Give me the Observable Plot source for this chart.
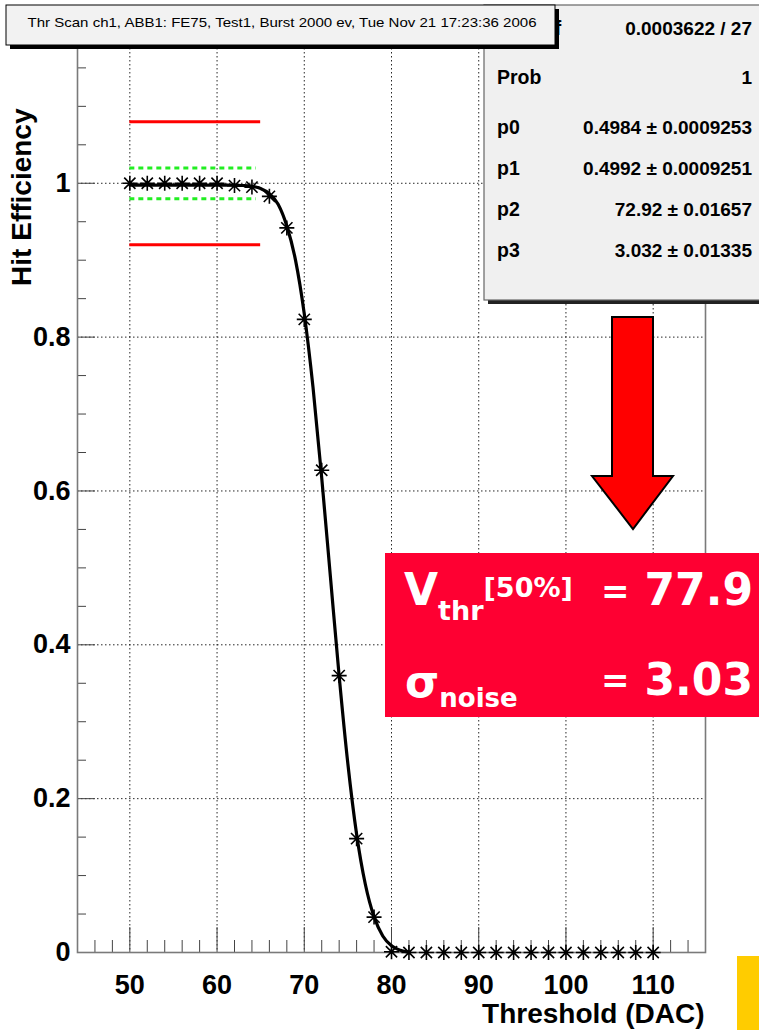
<!DOCTYPE html>
<html><head><meta charset="utf-8">
<script src="https://cdn.jsdelivr.net/npm/d3@7"></script>
<script src="https://cdn.jsdelivr.net/npm/@observablehq/plot@0.6"></script>
<style>
html,body{margin:0;padding:0;background:#fff;}
#wrap{position:relative;width:759px;height:1030px;overflow:hidden;}
#wrap > svg{position:absolute;left:0;top:0;}
</style></head><body><div id="wrap"></div>
<script>
// ---- data ----
const thresholds = [50,52,54,56,58,60,62,64,66,68,70,72,74,76,78,80,82,84,86,88,90,92,94,96,98,100,102,104,106,108,110];
const efficiency = [1,1,1,1,1,1,0.997,0.995,0.983,0.942,0.823,0.627,0.360,0.148,0.046,0.001,0,0,0,0,0,0,0,0,0,0,0,0,0,0,0];
const fitThreshold = [50,52,54,56,58,60,61,62,63,64,65,66,67,68,69,70,71,72,73,74,75,76,77,78,79,80,81,82];
const fitEfficiency = [0.9976,0.9976,0.9976,0.9976,0.9976,0.9976,0.9975,0.9974,0.9971,0.9961,0.9931,0.9866,0.9727,0.9444,0.8998,0.8302,0.7349,0.617,0.4879,0.3594,0.2451,0.1538,0.0887,0.0464,0.0215,0.0087,0.0029,0.0005];
const xMajorTicks = [50,60,70,80,90,100,110];
const xMinorTicks = [46,48,52,54,56,58,62,64,66,68,72,74,76,78,82,84,86,88,92,94,96,98,102,104,106,108,112,114];
const yMajorTicks = [0,0.2,0.4,0.6,0.8,1];
const yMinorTicks = [0.05,0.1,0.15,0.25,0.3,0.35,0.45,0.5,0.55,0.65,0.7,0.75,0.85,0.9,0.95,1.05,1.1,1.15];
const yGridTicks = [0.2,0.4,0.6,0.8,1];
const redBandLevels = [0.92,1.08];
const greenBandLevels = [0.98,1.02];
const bandStart = 50, redBandEnd = 65, greenBandEnd = 64.5;
const xDomain = [44,116];
const yDomain = [0,1.196];
const titleText = "Thr Scan ch1, ABB1: FE75, Test1, Burst 2000 ev, Tue Nov 21 17:23:36 2006";
const statLabels = ["\u03C7\u00B2 / ndf","Prob","p0","p1","p2","p3"];
const statValues = ["0.0003622 / 27","1","0.4984 \u00B1 0.0009253","0.4992 \u00B1 0.0009251","72.92 \u00B1 0.01657","3.032 \u00B1 0.01335"];
const xLabel = "Threshold (DAC)";
const yLabel = "Hit Efficiency";

const points = thresholds.map((x,i)=>({x, y: efficiency[i]}));
const fit = fitThreshold.map((x,i)=>({x, y: fitEfficiency[i]}));

// ROOT-style star marker (+ and x)
const star = {
  draw(ctx, size) {
    const r = Math.sqrt(size / Math.PI);
    const d = r * 0.75;
    ctx.moveTo(0,-r); ctx.lineTo(0,r);
    ctx.moveTo(-r,0); ctx.lineTo(r,0);
    ctx.moveTo(-d,-d); ctx.lineTo(d,d);
    ctx.moveTo(-d,d); ctx.lineTo(d,-d);
  }
};

const FONT = "'Liberation Sans', Arial, Helvetica, sans-serif";
const gridStyle = {stroke:"#000", strokeOpacity:0.85, strokeWidth:1, strokeDasharray:"1.5,2.5"};

const chart = Plot.plot({
  width: 759, height: 1030,
  marginLeft: 77, marginRight: 54, marginTop: 32, marginBottom: 78,
  x: {domain: xDomain},
  y: {domain: yDomain},
  style: {fontFamily: FONT, background: "transparent", overflow: "visible"},
  marks: [
    Plot.gridX(xMajorTicks, gridStyle),
    Plot.gridY(yGridTicks, gridStyle),
    Plot.axisX(xMinorTicks, {tickSize: -12, text: null, label: null, stroke: "#444", strokeWidth: 1}),
    Plot.axisX(xMajorTicks, {tickSize: -25, text: null, label: null, stroke: "#444", strokeWidth: 1}),
    Plot.axisY(yMinorTicks, {tickSize: -9, text: null, label: null, stroke: "#444", strokeWidth: 1}),
    Plot.axisY(yMajorTicks, {tickSize: -18, text: null, label: null, stroke: "#444", strokeWidth: 1}),
    Plot.frame({stroke: "#7a7a7a", strokeWidth: 1.6}),
    Plot.text(xMajorTicks, {x: d=>d, y: yDomain[0], dy: 33, text: d=>String(d), fontSize: 27, fontWeight: "bold", fontFamily: FONT, fill: "#000"}),
    Plot.text(yMajorTicks, {x: xDomain[0], y: d=>d, dx: -7, textAnchor: "end", text: d=>String(d), fontSize: 27, fontWeight: "bold", fontFamily: FONT, fill: "#000"}),
    Plot.text([xLabel], {x: xDomain[1], y: yDomain[0], dx: -1, dy: 62, textAnchor: "end", text: d=>d, fontSize: 28, fontWeight: "bold", fontFamily: FONT, fill: "#000"}),
    Plot.text([yLabel], {x: xDomain[0], y: yDomain[1], dx: -55, dy: 76, rotate: -90, textAnchor: "end", text: d=>d, fontSize: 28, fontWeight: "bold", fontFamily: FONT, fill: "#000"}),
    Plot.ruleY(redBandLevels, {y: d=>d, x1: bandStart, x2: redBandEnd, stroke: "#ff0000", strokeWidth: 3}),
    Plot.ruleY(greenBandLevels, {y: d=>d, x1: bandStart, x2: greenBandEnd, stroke: "#22ee22", strokeWidth: 3, strokeDasharray: "5,4"}),
    Plot.line(fit, {x: "x", y: "y", stroke: "#000", strokeWidth: 3.2, curve: "monotone-x"}),
    Plot.dot(points, {x: "x", y: "y", symbol: star, r: 7.5, stroke: "#000", fill: "none", strokeWidth: 1.6})
  ]
});
const wrap = document.getElementById("wrap");
wrap.appendChild(chart);

// ---- overlay annotations (boxes, arrow) ----
const ov = d3.select(wrap).append("svg")
  .attr("width", 759).attr("height", 1030)
  .attr("viewBox", "0 0 759 1030")
  .style("pointer-events", "none");

// stats box
ov.append("rect").attr("x", 488).attr("y", 9).attr("width", 300).attr("height", 295).attr("fill", "#222");
ov.append("rect").attr("x", 484).attr("y", 5).attr("width", 300).attr("height", 295).attr("fill", "#f0f0f0").attr("stroke", "#666").attr("stroke-width", 1.2);
const rowY = [28, 77, 127, 168, 209, 250];
statLabels.forEach((lab, i) => {
  ov.append("text").attr("x", 497).attr("y", rowY[i]).attr("dy", "0.35em")
    .attr("font-family", FONT).attr("font-weight", "bold").attr("font-size", 19.5).attr("fill", "#000").text(lab);
  ov.append("text").attr("x", 752).attr("y", rowY[i]).attr("dy", "0.35em").attr("text-anchor", "end")
    .attr("font-family", FONT).attr("font-weight", "bold").attr("font-size", 19).attr("fill", "#000").text(statValues[i]);
});

// title box
ov.append("rect").attr("x", 10).attr("y", 9).attr("width", 549).attr("height", 40).attr("fill", "#000");
ov.append("rect").attr("x", 6).attr("y", 5).attr("width", 549).attr("height", 40).attr("fill", "#f2f2f2").attr("stroke", "#000").attr("stroke-width", 1);
ov.append("text").attr("x", 282).attr("y", 27).attr("text-anchor", "middle")
  .attr("font-family", FONT).attr("font-size", 13.5).attr("fill", "#000")
  .attr("textLength", 509).attr("lengthAdjust", "spacingAndGlyphs").text(titleText);

// arrow
ov.append("polygon")
  .attr("points", "612,317 653,317 653,476 673,476 633,529 592,476 612,476")
  .attr("fill", "#ff0000").attr("stroke", "#000").attr("stroke-width", 2).attr("stroke-linejoin", "miter");

// red result box
ov.append("rect").attr("x", 385).attr("y", 553).attr("width", 380).attr("height", 164).attr("fill", "#fe0032");
const BF = "'DejaVu Sans', Verdana, sans-serif";
const t1 = ov.append("text").attr("x", 404).attr("y", 605).attr("font-family", BF).attr("font-weight", "bold").attr("fill", "#fff");
t1.append("tspan").attr("font-size", 44).text("V");
t1.append("tspan").attr("font-size", 27).attr("dy", 15).text("thr");
t1.append("tspan").attr("font-size", 27).attr("dy", -23).text("[50%]");
ov.append("text").attr("x", 601).attr("y", 603).attr("font-family", BF).attr("font-weight", "bold").attr("font-size", 34).attr("fill", "#fff").text("=");
ov.append("text").attr("x", 753).attr("y", 605).attr("text-anchor", "end").attr("font-family", BF).attr("font-weight", "bold").attr("font-size", 44).attr("fill", "#fff").text("77.9");

const t2 = ov.append("text").attr("x", 405).attr("y", 697).attr("font-family", BF).attr("font-weight", "bold").attr("fill", "#fff");
t2.append("tspan").attr("font-size", 44).text("\u03C3");
t2.append("tspan").attr("font-size", 26).attr("dy", 10).text("noise");
ov.append("text").attr("x", 601).attr("y", 692).attr("font-family", BF).attr("font-weight", "bold").attr("font-size", 34).attr("fill", "#fff").text("=");
ov.append("text").attr("x", 753).attr("y", 695).attr("text-anchor", "end").attr("font-family", BF).attr("font-weight", "bold").attr("font-size", 44).attr("fill", "#fff").text("3.03");

// yellow tab at bottom right
ov.append("rect").attr("x", 737).attr("y", 956).attr("width", 30).attr("height", 80).attr("fill", "#ffcc00");
</script>
</body></html>
